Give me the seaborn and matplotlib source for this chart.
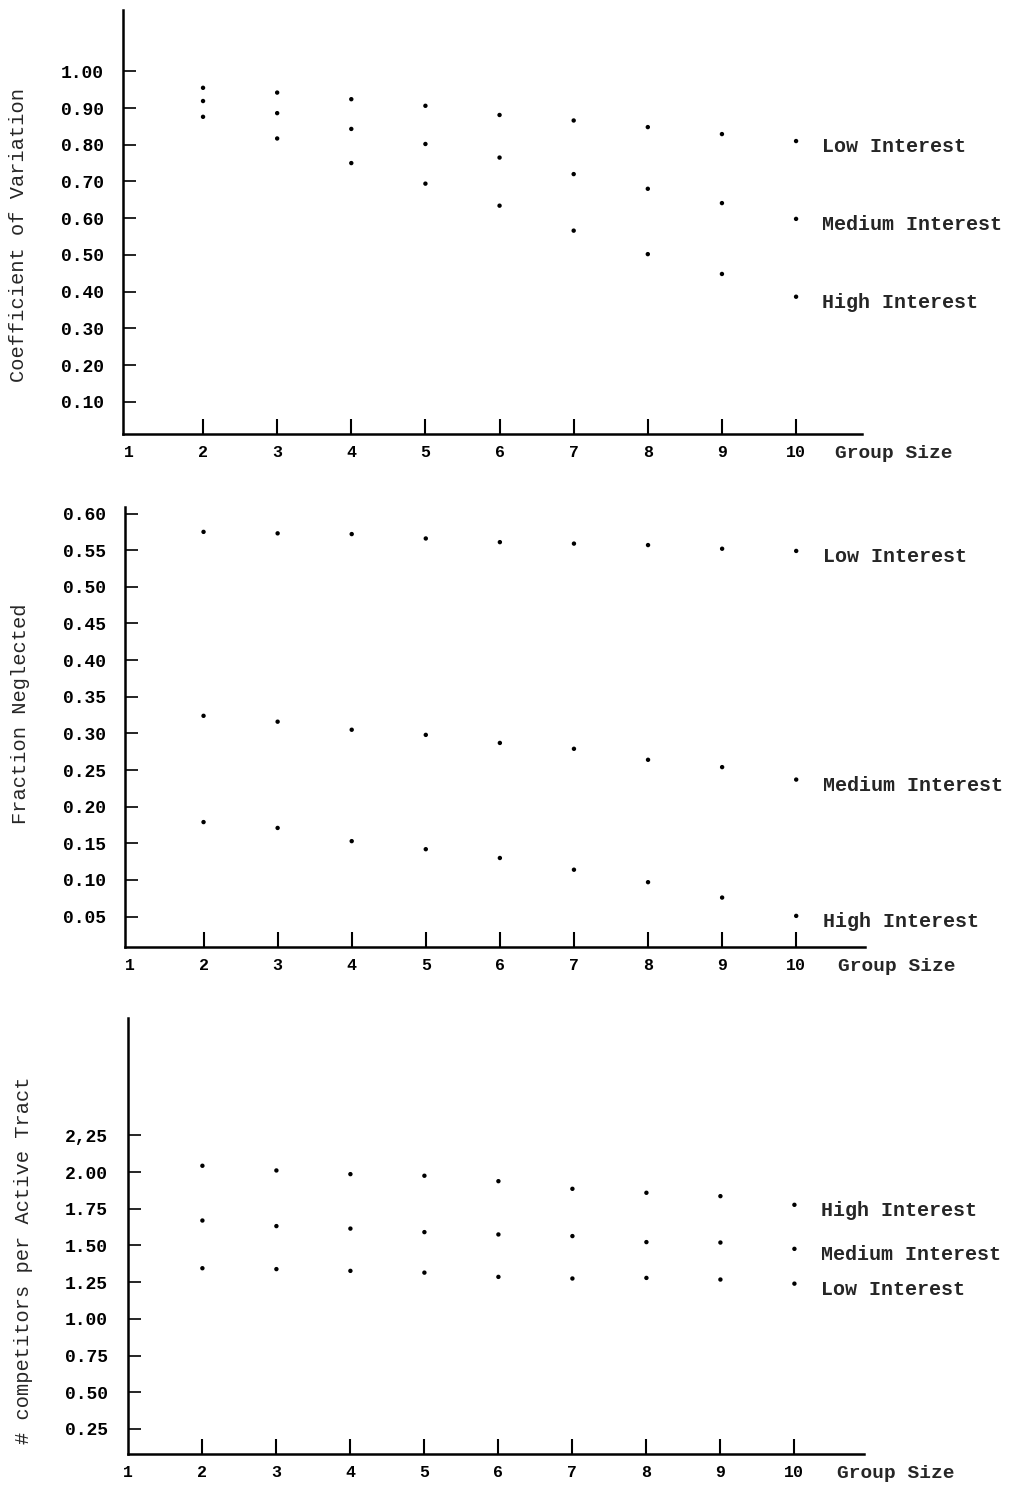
import pandas as pd
import matplotlib.pyplot as plt
import seaborn as sns

# Group size on the x axis (same for all three panels)
group_size = [2, 3, 4, 5, 6, 7, 8, 9, 10]
x_tick_values = [1, 2, 3, 4, 5, 6, 7, 8, 9, 10]

# Panel 1: coefficient of variation
cv_low = [0.955, 0.942, 0.924, 0.906, 0.881, 0.866, 0.848, 0.829, 0.810]
cv_medium = [0.919, 0.886, 0.843, 0.802, 0.765, 0.720, 0.680, 0.641, 0.598]
cv_high = [0.876, 0.817, 0.750, 0.694, 0.634, 0.566, 0.502, 0.448, 0.386]
cv_ticks = [0.10, 0.20, 0.30, 0.40, 0.50, 0.60, 0.70, 0.80, 0.90, 1.00]
cv_ticklabels = ["0.10", "0.20", "0.30", "0.40", "0.50", "0.60", "0.70", "0.80", "0.90", "1.00"]

# Panel 2: fraction neglected
neg_low = [0.575, 0.573, 0.572, 0.566, 0.561, 0.559, 0.557, 0.552, 0.549]
neg_medium = [0.324, 0.316, 0.305, 0.298, 0.287, 0.279, 0.264, 0.254, 0.237]
neg_high = [0.179, 0.171, 0.153, 0.142, 0.130, 0.114, 0.097, 0.076, 0.051]
neg_ticks = [0.05, 0.10, 0.15, 0.20, 0.25, 0.30, 0.35, 0.40, 0.45, 0.50, 0.55, 0.60]
neg_ticklabels = ["0.05", "0.10", "0.15", "0.20", "0.25", "0.30", "0.35", "0.40", "0.45", "0.50", "0.55", "0.60"]

# Panel 3: competitors per active tract
comp_high = [2.043, 2.011, 1.986, 1.975, 1.938, 1.886, 1.859, 1.836, 1.777]
comp_medium = [1.670, 1.632, 1.615, 1.591, 1.575, 1.564, 1.523, 1.520, 1.477]
comp_low = [1.345, 1.339, 1.327, 1.315, 1.286, 1.275, 1.279, 1.268, 1.240]
comp_ticks = [0.25, 0.50, 0.75, 1.00, 1.25, 1.50, 1.75, 2.00, 2.25]
comp_ticklabels = ["0.25", "0.50", "0.75", "1.00", "1.25", "1.50", "1.75", "2.00", "2,25"]


def long_table(series):
    rows = []
    for name, vals in series.items():
        for g, v in zip(group_size, vals):
            rows.append({"group": g, "value": v, "interest": name})
    return pd.DataFrame(rows)


sns.set_theme(style="ticks")
plt.rcParams['font.family'] = ['Liberation Mono', 'DejaVu Sans']
FS = 14

fig = plt.figure(figsize=(10.18, 14.88), dpi=100)

panels = [
    # axes rect, series, ticks, ticklabels, ylim, xlim, ylabel, ylabel y
    ([0.1208, 0.7083, 0.726, 0.285],
     {"Low Interest": cv_low, "Medium Interest": cv_medium, "High Interest": cv_high},
     cv_ticks, cv_ticklabels, (0.012, 1.167), (0.92, 10.89), "Coefficient of Variation", 0.47),
    ([0.1228, 0.3638, 0.727, 0.2955],
     {"Low Interest": neg_low, "Medium Interest": neg_medium, "High Interest": neg_high},
     neg_ticks, neg_ticklabels, (0.009, 0.609), (0.94, 10.93), "Fraction Neglected", 0.53),
    ([0.1254, 0.0229, 0.7233, 0.293],
     {"High Interest": comp_high, "Medium Interest": comp_medium, "Low Interest": comp_low},
     comp_ticks, comp_ticklabels, (0.08, 3.05), (0.99, 10.94), "# competitors per Active Tract", 0.445),
]

for rect, series, yt, ytl, ylim, xlim, ylabel, ylab_y in panels:
    ax = fig.add_axes(rect)
    df = long_table(series)
    sns.scatterplot(data=df, x="group", y="value", hue="interest",
                    palette=["black"] * 3, s=10, linewidth=0, legend=False, ax=ax)

    ax.set_xlim(*xlim)
    ax.set_ylim(*ylim)
    sns.despine(ax=ax)
    for side in ["left", "bottom"]:
        ax.spines[side].set_linewidth(1.8)
        ax.spines[side].set_color("black")

    ax.set_xticks(x_tick_values)
    ax.set_xticklabels([str(v) for v in x_tick_values], fontsize=FS - 2, fontweight="bold")
    ax.set_yticks(yt)
    ax.set_yticklabels(ytl, fontsize=FS - 1, fontweight="bold")
    ax.tick_params(axis="x", direction="in", length=11, width=1.5, pad=8, colors="black")
    ax.tick_params(axis="y", direction="in", length=9, width=1.2, pad=14, colors="black")
    ax.xaxis.get_major_ticks()[0].tick1line.set_visible(False)

    ax.set_xlabel("Group Size", fontsize=FS, fontweight="bold", ha="left")
    ax.xaxis.set_label_coords(0.963, -0.025)
    ax.set_ylabel(ylabel, fontsize=14.7)
    ax.yaxis.set_label_coords(-0.128, ylab_y)

    # labels placed beside the points at group size 10
    for name, vals in series.items():
        ax.annotate(name, xy=(group_size[-1], vals[-1]), xytext=(19, -4),
                    textcoords="offset points", fontsize=14.4, fontweight="bold",
                    va="center", ha="left")

plt.savefig("out.png", dpi=100, facecolor="white")
